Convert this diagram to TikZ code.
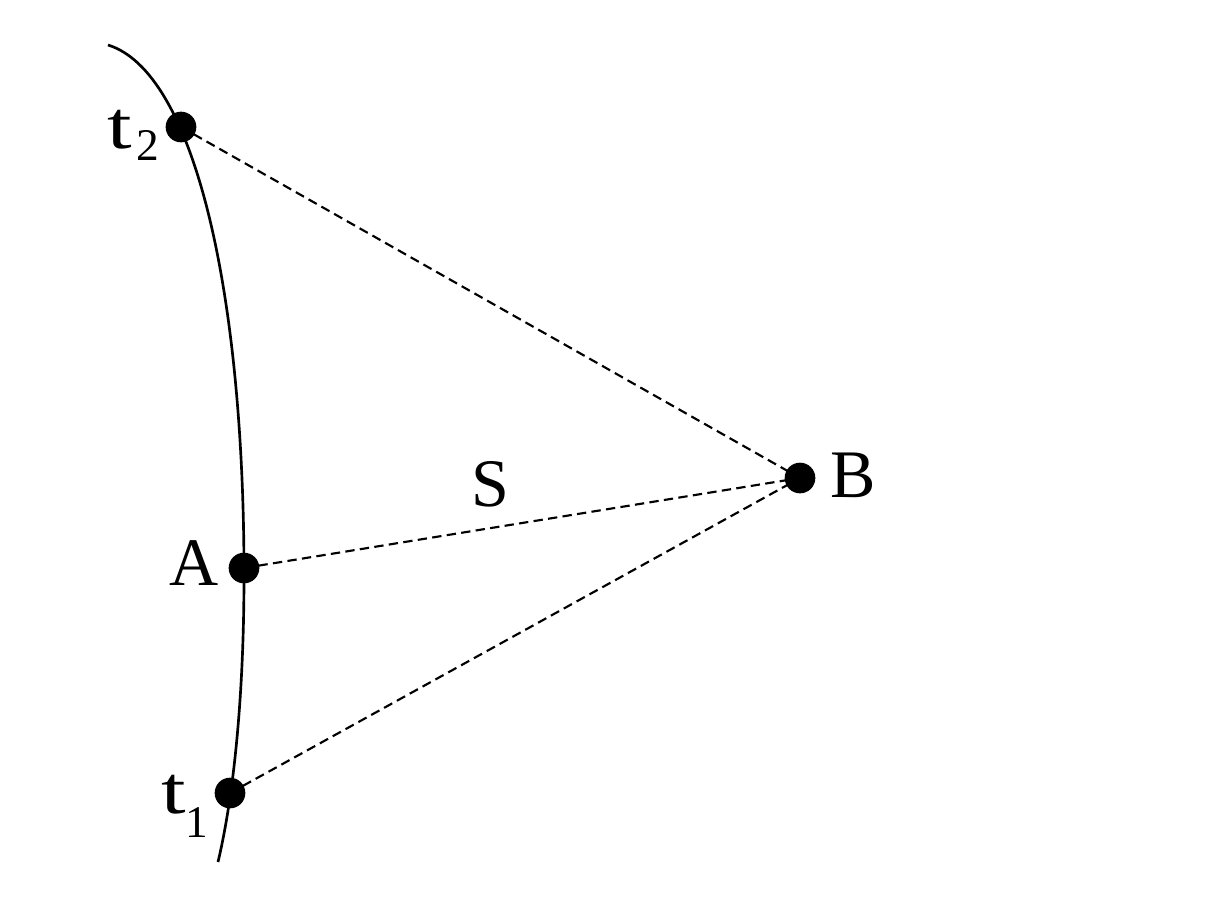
\documentclass[tikz,border=0pt]{standalone}
\usepackage{fontspec}
\setmainfont{Liberation Serif}
\begin{document}
\begin{tikzpicture}[x=0.75pt,y=-0.75pt,
  dotnode/.style={circle,fill=black,inner sep=0pt,minimum size=23pt},
  dashline/.style={line width=1.6pt,dash pattern=on 7pt off 4pt},
  arcline/.style={line width=2pt},
  lbl/.style={inner sep=0pt,font=\fontsize{51}{51}\selectfont}]
\useasboundingbox (0,0) rectangle (1212,900);
\draw[arcline] (108,45) .. controls (194,71.5) and (244,290) .. (244,575) .. controls (244,700) and (233,799) .. (218,862);
\coordinate (pt2) at (181,127);
\coordinate (pA) at (244,568);
\coordinate (pt1) at (230,793);
\coordinate (pB) at (800,478);
\draw[dashline] (pt2) -- (pB);
\draw[dashline] (pA) -- (pB);
\draw[dashline] (pt1) -- (pB);
\node[dotnode] (t2) at (pt2) {};
\node[dotnode] (A) at (pA) {};
\node[dotnode] (t1) at (pt1) {};
\node[dotnode] (B) at (pB) {};
\node[lbl,anchor=base east] (lA) at (219,585) {A};
\node[lbl,anchor=base west] (lB) at (830,497) {B};
\node[lbl,anchor=base west] (lS) at (471,506) {S};
\node[lbl,anchor=base west] (lt2) at (107,148) {\scalebox{1.3}[1]{t}\kern3.5pt\raisebox{-9pt}{\fontsize{34}{34}\selectfont 2}};
\node[lbl,anchor=base west] (lt1) at (161,813) {\scalebox{1.3}[1]{t}\kern0pt\raisebox{-18pt}{\fontsize{34}{34}\selectfont 1}};
\end{tikzpicture}
\end{document}
